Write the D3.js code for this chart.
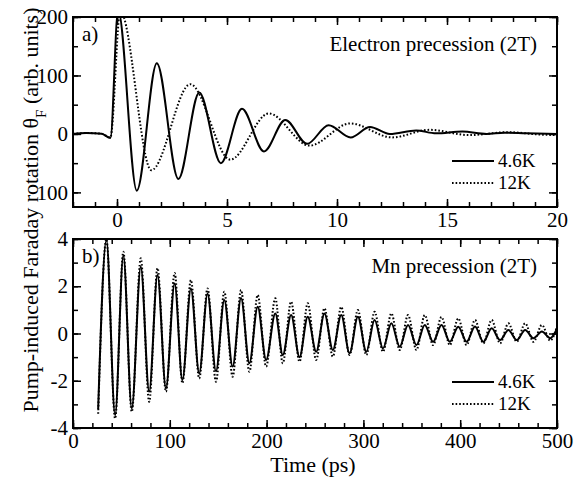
<!DOCTYPE html>
<html>
<head>
<meta charset="utf-8">
<script src="https://cdn.jsdelivr.net/npm/d3@7"></script>
<style>
  body { margin: 0; background: #fff; }
  svg text { font-family: "Liberation Serif", "Times New Roman", Times, "DejaVu Serif", serif; fill: #000; }
</style>
</head>
<body>
<svg id="chart" width="584" height="477"></svg>
<script>
// panel a) electron precession, [time ps, theta_F arb. units] at turning points
var electron46K = [
  [-2, 0], [-1.4, 1.5], [-0.7, 0.5], [-0.3, -7], [0.05, 212], [0.9, -97], [1.81, 121],
  [2.79, -77], [3.74, 71], [4.72, -50], [5.68, 43], [6.68, -30], [7.65, 24], [8.64, -17],
  [9.62, 15], [10.62, -6], [11.5, 12], [12.4, 0], [13.6, 6], [14.5, 1], [15.7, 4],
  [16.8, 0], [17.6, 2], [18.6, 1], [20, 0]
];
var electron12K = [
  [-2, 0], [-1.4, 1.5], [-0.7, 0.5], [-0.3, -6], [0.15, 210], [1.56, -62], [3.33, 85],
  [5.15, -44], [6.9, 35], [8.75, -20], [10.6, 18], [12.5, -6], [14.2, 7], [16.0, -2],
  [17.8, 3], [19.2, -1], [20, -2]
];

// panel b) Mn precession, [time ps, theta_F] at turning points
var mn46K = [
  [26, -3.2], [34.5, 3.96], [43.5, -3.45], [52, 3.3], [60.7, -3.17], [70, 2.83], [78.7, -2.46],
  [87.3, 2.48], [96, -2.32], [105, 2.12], [113, -1.97], [121.8, 1.91], [130.4, -1.69],
  [139, 1.68], [147.7, -1.6], [156.3, 1.42], [164.9, -1.4], [173.6, 1.5], [182.2, -1.26],
  [190.8, 1.13], [199.5, -1.12], [209, 0.85], [216.7, -0.91], [225.3, 0.78], [234, -1.0],
  [242.5, 0.71], [251.2, -0.77], [259.8, 0.85], [268.4, -0.7], [277.1, 0.78], [285.7, -0.84],
  [294.3, 0.71], [303, -0.77], [311.6, 0.57], [320.2, -0.63], [328.9, 0.43], [337.5, -0.56],
  [346.1, 0.36], [354.8, -0.49], [363.4, 0.36], [372, -0.35], [380.7, 0.36], [389.3, -0.35],
  [398, 0.29], [406.6, -0.35], [415.3, 0.3], [423.9, -0.35], [432.5, 0.22], [441.2, -0.28],
  [449.8, 0.15], [458.4, -0.28], [467.1, 0.15], [475.7, -0.2], [484.4, 0.08], [493, -0.2],
  [500, 0.2]
];
var mn12K = [
  [26, -3.4], [34.5, 4.0], [43.5, -3.6], [52, 3.46], [60.7, -3.31], [70, 3.18], [78.7, -2.89],
  [87.3, 2.77], [96, -2.46], [105, 2.56], [113, -2.1], [121.8, 2.26], [130.4, -1.9],
  [139, 1.91], [147.7, -2.04], [156.3, 1.77], [164.9, -1.83], [173.6, 1.84], [182.2, -1.62],
  [190.8, 1.63], [199.5, -1.4], [209, 1.49], [216.7, -1.26], [225.3, 1.35], [234, -1.19],
  [242.5, 1.28], [251.2, -1.12], [259.8, 1.07], [268.4, -0.98], [277.1, 1.13], [285.7, -0.91],
  [294.3, 0.99], [303, -0.91], [311.6, 0.92], [320.2, -0.77], [328.9, 0.85], [337.5, -0.7],
  [346.1, 0.78], [354.8, -0.7], [363.4, 0.78], [372, -0.49], [380.7, 0.7], [389.3, -0.49],
  [398, 0.64], [406.6, -0.49], [415.3, 0.57], [423.9, -0.42], [432.5, 0.57], [441.2, -0.42],
  [449.8, 0.43], [458.4, -0.35], [467.1, 0.43], [475.7, -0.35], [484.4, 0.36], [493, -0.3],
  [500, 0.3]
];

// ticks and labels
var elecXTicks = [0, 5, 10, 15, 20];
var elecXMinor = d3.range(-2, 21, 1);
var elecYTicks = [-100, 0, 100, 200];
var elecYTickLabels = ["100", "0", "100", "200"];   // the scan shows no minus sign
var elecYMinor = d3.range(-100, 201, 50);
var mnXTicks = [0, 100, 200, 300, 400, 500];
var mnXMinor = d3.range(0, 501, 20);
var mnYTicks = [-4, -2, 0, 2, 4];
var mnYMinor = d3.range(-4, 5, 1);
var seriesNames = ["4.6K", "12K"];

var FONT = '"Liberation Serif", "Times New Roman", Times, "DejaVu Serif", serif';
var svg = d3.select('#chart');
var left = 73, right = 557;

function panel(opts) {
  var x = d3.scaleLinear().domain(opts.xDomain).range([left, right]);
  var y = d3.scaleLinear().domain(opts.yDomain).range([opts.bottom, opts.top]);
  var g = svg.append('g');

  g.append('clipPath').attr('id', opts.id)
    .append('rect').attr('x', left).attr('y', opts.top)
    .attr('width', right - left).attr('height', opts.bottom - opts.top);

  // major + minor ticks, all pointing inward
  function addAxis(axis, tx, ty, labels) {
    var a = g.append('g').attr('transform', 'translate(' + tx + ',' + ty + ')').call(axis);
    a.attr('font-family', FONT);
    a.select('.domain').remove();
    a.selectAll('line').attr('stroke', '#000').attr('stroke-width', 1.5);
    a.selectAll('text').style('font-size', '21px').attr('fill', '#000');
    if (!labels) a.selectAll('text').remove();
    return a;
  }
  addAxis(d3.axisBottom(x).tickValues(opts.xMinor).tickSize(-5).tickFormat(''), 0, opts.bottom, false);
  addAxis(d3.axisTop(x).tickValues(opts.xMinor).tickSize(-5).tickFormat(''), 0, opts.top, false);
  addAxis(d3.axisBottom(x).tickValues(opts.xTicks).tickSize(-8).tickPadding(5), 0, opts.bottom, true);
  addAxis(d3.axisTop(x).tickValues(opts.xTicks).tickSize(-8).tickFormat(''), 0, opts.top, false);

  addAxis(d3.axisLeft(y).tickValues(opts.yMinor).tickSize(-5).tickFormat(''), left, 0, false);
  addAxis(d3.axisRight(y).tickValues(opts.yMinor).tickSize(-5).tickFormat(''), right, 0, false);
  addAxis(d3.axisLeft(y).tickValues(opts.yTicks).tickSize(-8).tickPadding(5)
    .tickFormat(opts.yFormat), left, 0, true);
  addAxis(d3.axisRight(y).tickValues(opts.yTicks).tickSize(-8).tickFormat(''), right, 0, false);

  var line = d3.line().curve(d3.curveMonotoneX)
    .x(function(d) { return x(d[0]); })
    .y(function(d) { return y(d[1]); });

  g.append('path').datum(opts.dotted).attr('d', line)
    .attr('clip-path', 'url(#' + opts.id + ')')
    .attr('fill', 'none').attr('stroke', '#000').attr('stroke-width', 2)
    .attr('stroke-dasharray', '1.6,2');
  g.append('path').datum(opts.solid).attr('d', line)
    .attr('clip-path', 'url(#' + opts.id + ')')
    .attr('fill', 'none').attr('stroke', '#000').attr('stroke-width', 2);

  // frame
  g.append('rect').attr('x', left).attr('y', opts.top)
    .attr('width', right - left).attr('height', opts.bottom - opts.top)
    .attr('fill', 'none').attr('stroke', '#000').attr('stroke-width', 2);

  g.append('text').attr('x', 82).attr('y', opts.top + 24)
    .style('font-size', '21px').text(opts.tag);
  g.append('text').attr('x', 537).attr('y', opts.top + 34)
    .attr('text-anchor', 'end').style('font-size', '21px').text(opts.title);

  // legend
  var ly = [opts.bottom - 46, opts.bottom - 24];
  seriesNames.forEach(function(name, i) {
    g.append('line').attr('x1', 452).attr('x2', 494).attr('y1', ly[i]).attr('y2', ly[i])
      .attr('stroke', '#000').attr('stroke-width', 2)
      .attr('stroke-dasharray', i === 1 ? '1.6,2' : null);
    g.append('text').attr('x', 498).attr('y', ly[i] + 6)
      .style('font-size', '19px').text(name);
  });
}

panel({
  id: 'clipA', top: 17, bottom: 207,
  xDomain: [-2, 20], yDomain: [-125, 200],
  xTicks: elecXTicks, xMinor: elecXMinor,
  yTicks: elecYTicks, yMinor: elecYMinor,
  yFormat: function(d, i) { return elecYTickLabels[i]; },
  solid: electron46K, dotted: electron12K,
  tag: 'a)', title: 'Electron precession (2T)'
});

panel({
  id: 'clipB', top: 239, bottom: 428,
  xDomain: [0, 500], yDomain: [-4, 4],
  xTicks: mnXTicks, xMinor: mnXMinor,
  yTicks: mnYTicks, yMinor: mnYMinor,
  yFormat: function(d) { return d < 0 ? '-' + Math.abs(d) : String(d); },
  solid: mn46K, dotted: mn12K,
  tag: 'b)', title: 'Mn precession (2T)'
});

// axis titles
svg.append('text').attr('x', 313).attr('y', 472)
  .attr('text-anchor', 'middle').style('font-size', '22px').text('Time (ps)');

var yl = svg.append('text')
  .attr('transform', 'translate(38,210) rotate(-90)')
  .attr('text-anchor', 'middle').style('font-size', '22px');
yl.append('tspan').text('Pump-induced Faraday rotation \u03B8');
yl.append('tspan').attr('baseline-shift', 'sub').style('font-size', '15px').text('F');
yl.append('tspan').text(' (arb. units)');
</script>
</body>
</html>
